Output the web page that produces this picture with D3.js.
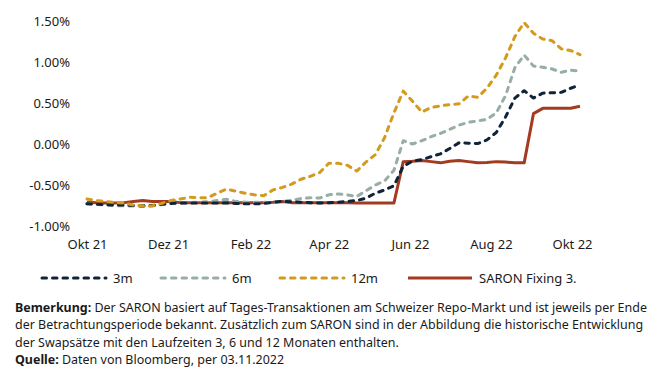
<!DOCTYPE html>
<html>
<head>
<meta charset="utf-8">
<script src="https://cdn.jsdelivr.net/npm/d3@7"></script>
<style>
  html, body { margin: 0; padding: 0; background: #fff; }
  svg { display: block; }
  text { font-family: "Noto Sans", "Open Sans", sans-serif; fill: #1a1a1a; }
</style>
</head>
<body>
<svg id="chart" width="663" height="378"></svg>
<script>
const dates = ["2021-10-01","2021-10-08","2021-10-15","2021-10-22","2021-10-29",
  "2021-11-05","2021-11-12","2021-11-19","2021-11-26",
  "2021-12-03","2021-12-10","2021-12-17","2021-12-24","2021-12-31",
  "2022-01-07","2022-01-14","2022-01-21","2022-01-28",
  "2022-02-04","2022-02-11","2022-02-18","2022-02-25",
  "2022-03-04","2022-03-11","2022-03-18","2022-03-25",
  "2022-04-01","2022-04-08","2022-04-15","2022-04-22","2022-04-29",
  "2022-05-06","2022-05-13","2022-05-20","2022-05-27",
  "2022-06-03","2022-06-10","2022-06-17","2022-06-24",
  "2022-07-01","2022-07-08","2022-07-15","2022-07-22","2022-07-29",
  "2022-08-05","2022-08-12","2022-08-19","2022-08-26",
  "2022-09-02","2022-09-09","2022-09-16","2022-09-23","2022-09-30",
  "2022-10-07"];

const swap3m = [-0.73,-0.735,-0.74,-0.745,-0.745,-0.75,-0.755,-0.75,-0.735,
  -0.725,-0.72,-0.72,-0.72,-0.72,-0.72,-0.72,-0.725,-0.73,-0.73,-0.725,-0.71,-0.70,
  -0.705,-0.71,-0.715,-0.72,-0.715,-0.71,-0.70,-0.69,-0.66,-0.60,-0.56,-0.51,-0.27,
  -0.21,-0.19,-0.155,-0.12,-0.055,0.015,0.01,0.005,0.05,0.14,0.33,0.56,0.65,0.56,
  0.62,0.625,0.63,0.68,0.72];

const swap6m = [-0.73,-0.735,-0.745,-0.75,-0.755,-0.757,-0.76,-0.755,-0.74,
  -0.725,-0.72,-0.715,-0.71,-0.705,-0.69,-0.675,-0.70,-0.71,-0.71,-0.71,-0.715,-0.70,
  -0.685,-0.665,-0.655,-0.66,-0.62,-0.61,-0.62,-0.64,-0.57,-0.50,-0.45,-0.32,0.04,
  0.00,0.04,0.09,0.13,0.18,0.23,0.265,0.28,0.30,0.38,0.59,0.93,1.085,0.95,
  0.935,0.915,0.875,0.90,0.89];

const swap12m = [-0.67,-0.69,-0.70,-0.715,-0.72,-0.745,-0.755,-0.755,-0.725,
  -0.69,-0.67,-0.65,-0.655,-0.655,-0.60,-0.55,-0.575,-0.60,-0.62,-0.63,-0.56,-0.53,
  -0.49,-0.43,-0.395,-0.35,-0.235,-0.235,-0.26,-0.33,-0.22,-0.13,0.08,0.38,0.645,
  0.52,0.39,0.445,0.465,0.48,0.49,0.585,0.57,0.68,0.84,1.05,1.31,1.48,1.35,
  1.28,1.26,1.16,1.14,1.09];

const saron = [-0.71,-0.715,-0.72,-0.72,-0.715,-0.70,-0.69,-0.70,-0.70,
  -0.70,-0.715,-0.715,-0.715,-0.715,-0.715,-0.715,-0.715,-0.715,-0.715,-0.715,-0.71,-0.70,
  -0.715,-0.715,-0.715,-0.715,-0.715,-0.715,-0.715,-0.72,-0.72,-0.72,-0.72,-0.72,-0.215,
  -0.21,-0.20,-0.215,-0.23,-0.21,-0.20,-0.215,-0.23,-0.225,-0.215,-0.22,-0.23,-0.23,0.37,
  0.435,0.435,0.435,0.435,0.46];

const xTickDates = ["2021-10-01","2021-12-01","2022-02-01","2022-04-01","2022-06-01","2022-08-01","2022-10-01"];
const xTickLabels = ["Okt 21","Dez 21","Feb 22","Apr 22","Jun 22","Aug 22","Okt 22"];
const yTicks = [-1, -0.5, 0, 0.5, 1, 1.5];

const seriesNames = ["3m", "6m", "12m", "SARON Fixing 3."];
const seriesColors = ["#0f2438", "#97ada6", "#d39a1d", "#a33b21"];
const seriesData = [swap3m, swap6m, swap12m, saron];
const seriesDashed = [true, true, true, false];

const footLines = [
  [["Bemerkung:", true], [" Der SARON basiert auf Tages-Transaktionen am Schweizer Repo-Markt und ist jeweils per Ende", false]],
  [["der Betrachtungsperiode bekannt. Zusätzlich zum SARON sind in der Abbildung die historische Entwicklung", false]],
  [["der Swapsätze mit den Laufzeiten 3, 6 und 12 Monaten enthalten.", false]],
  [["Quelle:", true], [" Daten von Bloomberg, per 03.11.2022", false]]
];

const parse = d3.utcParse("%Y-%m-%d");
const svg = d3.select("#chart");

const x = d3.scaleUtc()
  .domain([parse("2021-10-01"), parse("2022-10-01")])
  .range([87, 572]);
const y = d3.scaleLinear().domain([-1, 1.5]).range([226, 21]);

const loc = d3.formatLocale({decimal: ".", thousands: ",", grouping: [3], currency: ["", ""], minus: "-"});
const pct = loc.format(".2f");

// Y axis
const yAxis = d3.axisLeft(y).tickValues(yTicks).tickSize(0).tickPadding(0)
  .tickFormat(d => pct(d) + "%");
const gy = svg.append("g").attr("transform", "translate(70,0)").call(yAxis);
gy.select(".domain").remove();
gy.selectAll("text").style("font-size", "13px")
  .style("font-family", '"Noto Sans", "Open Sans", sans-serif').attr("fill", "#1a1a1a");

// X axis
const xAxis = d3.axisBottom(x).tickValues(xTickDates.map(parse)).tickSize(0).tickPadding(0)
  .tickFormat((d, i) => xTickLabels[i]);
const gx = svg.append("g").attr("transform", "translate(0,240)").call(xAxis);
gx.select(".domain").remove();
gx.selectAll("text").style("font-size", "13px")
  .style("font-family", '"Noto Sans", "Open Sans", sans-serif').attr("fill", "#1a1a1a");

// Lines
const dts = dates.map(parse);
const line = d3.line().x(d => x(d[0])).y(d => y(d[1]));
[3, 1, 0, 2].forEach(si => {
  svg.append("path")
    .datum(dts.map((d, i) => [d, seriesData[si][i]]))
    .attr("fill", "none")
    .attr("stroke", seriesColors[si])
    .attr("stroke-width", 3)
    .attr("stroke-linejoin", "round")
    .attr("stroke-linecap", seriesDashed[si] ? "round" : "butt")
    .attr("stroke-dasharray", seriesDashed[si] ? "4.5,6" : null)
    .attr("d", line);
});

// Legend
const legendX = [42, 161, 280, 408];
const lg = svg.append("g").attr("transform", "translate(0,278)");
seriesNames.forEach((name, i) => {
  lg.append("line")
    .attr("x1", legendX[i]).attr("x2", legendX[i] + 64)
    .attr("y1", 0).attr("y2", 0)
    .attr("stroke", seriesColors[i]).attr("stroke-width", 3)
    .attr("stroke-linecap", seriesDashed[i] ? "round" : "butt")
    .attr("stroke-dasharray", seriesDashed[i] ? "4.5,6" : null);
  lg.append("text")
    .attr("x", legendX[i] + 71).attr("y", 4.5)
    .style("font-size", "13px")
    .text(name);
});

// Footnote
const footY = [311.5, 329, 346.5, 364];
const fg = svg.append("g");
const texts = footLines.map((parts, li) => {
  const t = fg.append("text").attr("x", 0).attr("y", 0).style("font-size", "12.5px");
  parts.forEach(([s, b]) => t.append("tspan").text(s).style("font-weight", b ? "700" : "400"));
  return t;
});
const natural = texts[0].node().getComputedTextLength();
const ratio = (648 - 15) / natural;
texts.forEach((t, li) => t.attr("transform", `translate(15,${footY[li]}) scale(${ratio},1)`));
</script>
</body>
</html>
